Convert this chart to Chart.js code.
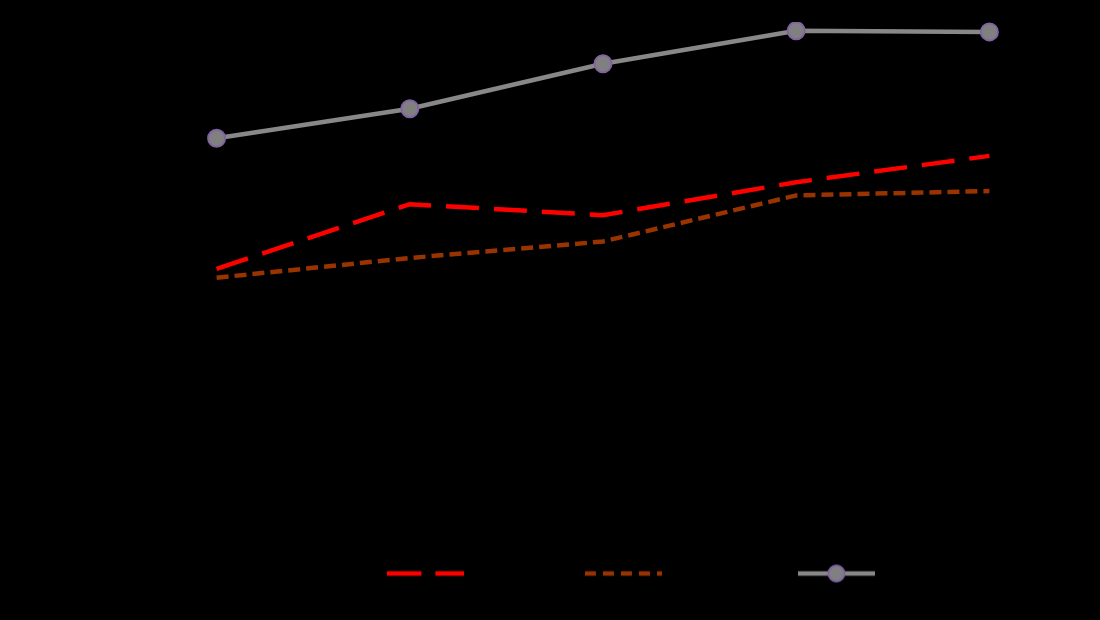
<!DOCTYPE html>
<html>
<head>
<meta charset="utf-8">
<script src="https://cdn.jsdelivr.net/npm/chart.js@4/dist/chart.umd.min.js"></script>
<style>
    html, body { margin: 0; padding: 0; background: #000; }
    #wrap { width: 1100px; height: 620px; position: relative; background: #000; }
</style>
</head>
<body>
<div id="wrap"><canvas id="chart"></canvas></div>
<script>
// Chart data
const months = ['11.04', '11.05', '11.06', '11.07', '11.08'];
const abitazioni = [4.6, 4.75, 4.9, 5.1, 5.2]; // black line, not readable on the black background
const uffici = [3.75, 4.34, 4.24, 4.54, 4.78];
const negozi = [3.67, 3.85, 4.0, 4.42, 4.46];
const capannoni = [4.94, 5.21, 5.62, 5.92, 5.91];
const yTicks = [2, 3, 4, 5, 6];

const serif = '"Liberation Serif", "Times New Roman", serif';
Chart.defaults.color = '#000';

// Small canvas used as the legend swatch (line + optional marker)
function swatch(color, dash, width, marker) {
    const c = document.createElement('canvas');
    c.width = 77;
    c.height = 20;
    const g = c.getContext('2d');
    g.strokeStyle = color;
    g.lineWidth = width;
    g.setLineDash(dash);
    g.beginPath();
    g.moveTo(0, 10);
    g.lineTo(77, 10);
    g.stroke();
    if (marker) {
        g.setLineDash([]);
        g.fillStyle = '#808080';
        g.strokeStyle = '#8064A2';
        g.lineWidth = 2;
        g.beginPath();
        g.arc(38.5, 10, 8, 0, Math.PI * 2);
        g.fill();
        g.stroke();
    }
    return c;
}

const datasets = [
    {
        label: 'Abitazioni',
        data: abitazioni,
        borderColor: '#000',
        borderWidth: 4,
        pointRadius: 0,
        swatch: swatch('#000', [], 4, false)
    },
    {
        label: 'Uffici',
        data: uffici,
        borderColor: '#FF0000',
        borderWidth: 4.5,
        borderDash: [33, 15],
        pointRadius: 0,
        swatch: swatch('#FF0000', [34, 14], 4.5, false)
    },
    {
        label: 'Negozi',
        data: negozi,
        borderColor: '#993300',
        borderWidth: 4.5,
        borderDash: [12, 6],
        pointRadius: 0,
        swatch: swatch('#993300', [11, 7], 4.5, false)
    },
    {
        label: 'Capannoni',
        data: capannoni,
        borderColor: '#888888',
        borderWidth: 4.5,
        pointRadius: 8.5,
        pointBackgroundColor: '#808080',
        pointBorderColor: '#8064A2',
        pointBorderWidth: 2,
        swatch: swatch('#888888', [], 4.5, true)
    }
];

// legend sits a bit right of centre in the original
const shiftLegend = {
    id: 'shiftLegend',
    afterLayout(chart) {
        chart.legend.left += 36;
        chart.legend.right += 36;
    }
};

const ctx = document.getElementById('chart').getContext('2d');
const chart = new Chart(ctx, {
    type: 'line',
    data: { labels: months, datasets: datasets },
    plugins: [shiftLegend],
    options: {
        responsive: true,
        maintainAspectRatio: false,
        animation: false,
        layout: { padding: { top: 22, left: 5, right: 14, bottom: 21 } },
        scales: {
            x: {
                offset: true,
                afterFit: s => { s.height = 66; },
                grid: { display: false, drawTicks: false },
                border: { display: false },
                ticks: { padding: 31, font: { family: serif, size: 24, weight: 'bold' }, color: '#000' }
            },
            y: {
                min: 2,
                max: 6,
                // fixed width; drop the tick padding from the top/bottom overhang
                afterFit: s => {
                    s.width = 115;
                    s.paddingTop = 0;
                    s.paddingBottom = 0;
                },
                afterBuildTicks: s => { s.ticks = yTicks.map(v => ({ value: v })); },
                grid: { display: false, drawTicks: false },
                border: { display: false },
                title: {
                    display: true,
                    text: 'Mesi',
                    font: { family: serif, size: 30, weight: 'bold' },
                    color: '#000'
                },
                ticks: {
                    padding: 28,
                    font: { family: serif, size: 24, weight: 'bold' },
                    color: '#000',
                    callback: v => v.toFixed(1).replace('.', ',')
                }
            }
        },
        plugins: {
            tooltip: { enabled: false },
            legend: {
                position: 'bottom',
                labels: {
                    usePointStyle: true,
                    pointStyleWidth: 77,
                    padding: 31,
                    color: '#000',
                    font: { family: serif, size: 31, weight: 'bold' },
                    generateLabels: c => c.data.datasets.map((d, i) => ({
                        text: d.label,
                        pointStyle: d.swatch,
                        fontColor: '#000',
                        lineWidth: 0,
                        datasetIndex: i
                    }))
                }
            }
        }
    }
});
</script>
</body>
</html>
